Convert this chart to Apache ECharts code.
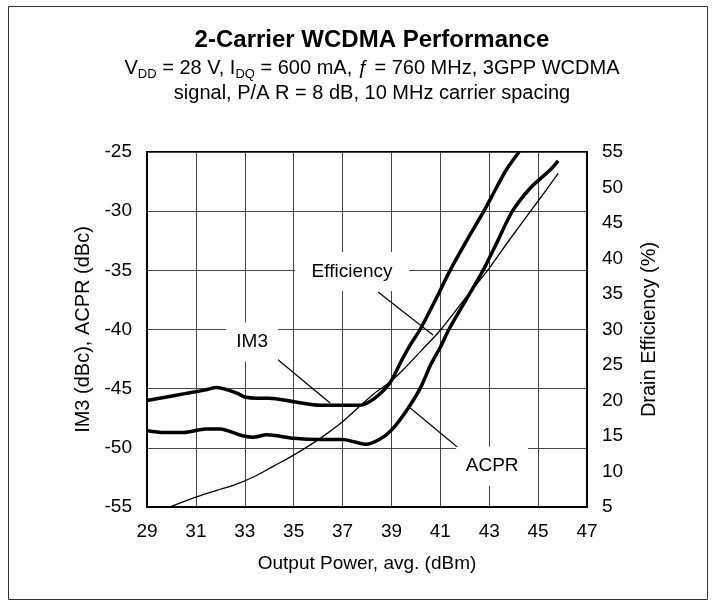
<!DOCTYPE html>
<html>
<head>
<meta charset="utf-8">
<script src="https://cdn.jsdelivr.net/npm/echarts@6/dist/echarts.min.js"></script>
<style>
  html, body { margin: 0; padding: 0; background: #fff; }
  #chart { width: 716px; height: 607px; }
</style>
</head>
<body>
<div id="chart"></div>
<script>
// 数据 (读图估算)
const im3X = [29.0, 29.8, 30.6, 31.4, 31.85, 32.3, 32.7, 33.0, 33.5, 34.0, 35.0, 36.1, 37.0, 37.7, 38.1, 38.5, 38.94, 39.42, 39.8, 40.17, 40.8, 41.4, 42.1, 42.78, 43.3, 43.7, 44.22];
const im3Y = [-46.0, -45.7, -45.4, -45.1, -44.9, -45.1, -45.4, -45.7, -45.8, -45.8, -46.1, -46.4, -46.4, -46.4, -46.1, -45.5, -44.5, -42.6, -41.2, -40.0, -37.5, -35.0, -32.4, -30.0, -28.0, -26.5, -25.0];

const acprX = [29.0, 29.7, 30.5, 31.4, 32.0, 32.5, 32.95, 33.35, 33.9, 35.0, 36.1, 37.0, 37.5, 37.95, 38.5, 39.0, 39.6, 40.17, 40.6, 41.0, 41.35, 42.05, 42.75, 43.35, 43.95, 44.7, 45.5, 45.82];
const acprY = [-48.55, -48.7, -48.7, -48.4, -48.4, -48.7, -49.0, -49.1, -48.9, -49.2, -49.3, -49.3, -49.5, -49.7, -49.3, -48.5, -46.9, -45.0, -43.0, -41.5, -40.0, -37.5, -35.0, -32.5, -30.0, -28.0, -26.5, -25.75];

const effX = [30.0, 31.0, 32.0, 32.5, 33.4, 34.2, 35.0, 36.1, 37.0, 37.7, 38.3, 38.94, 39.5, 40.24, 41.0, 42.0, 42.95, 43.8, 44.7, 45.3, 45.82];
const effY = [5.1, 6.4, 7.5, 8.0, 9.3, 10.8, 12.3, 14.7, 17.0, 19.2, 21.0, 22.6, 24.4, 27.1, 29.9, 34.3, 38.4, 42.5, 46.7, 49.5, 52.0];

// 坐标轴
const xMin = 29, xMax = 47, xStep = 2;
const leftMin = -55, leftMax = -25, leftStep = 5;
const rightMin = 5, rightMax = 55, rightStep = 5;

// 标注 (左轴坐标)
const labelNames = ['Efficiency', 'IM3', 'ACPR'];
const labelPos = [[37.39, -35.1], [33.3, -41.05], [43.12, -51.55]];
const labelBox = [[114, 39], [52, 39], [72, 39]];
const pointerFrom = [[38.45, -36.83], [34.32, -42.49], [39.72, -46.55]];
const pointerTo = [[40.7, -40.46], [36.49, -46.21], [41.73, -50.0]];

const zip = (xs, ys) => xs.map((x, i) => [x, ys[i]]);

const font = '"Liberation Sans", Arial, Helvetica, sans-serif';
const chart = echarts.init(document.getElementById('chart'));

const axisLine = { show: true, lineStyle: { color: '#000', width: 2 } };
const axisLabel = { color: '#000', fontSize: 19, fontFamily: font, margin: 15 };
const axisName = { color: '#000', fontSize: 20, fontFamily: font };

chart.setOption({
    animation: false,
    backgroundColor: '#fff',
    title: [{
        text: '2-Carrier WCDMA Performance',
        left: 367,
        top: 23,
        textAlign: 'center',
        textStyle: { fontSize: 24, fontWeight: 'bold', color: '#000', fontFamily: font }
    }, {
        text: 'V{s|DD} = 28 V, I{s|DQ} = 600 mA, ƒ = 760 MHz, 3GPP WCDMA\nsignal, P/A R = 8 dB, 10 MHz carrier spacing',
        left: 367,
        top: 51,
        textAlign: 'center',
        textStyle: {
            fontSize: 20, fontWeight: 'normal', color: '#000', fontFamily: font, lineHeight: 25,
            rich: {
                s: { fontSize: 13, fontWeight: 'normal', fontFamily: font, color: '#000', verticalAlign: 'bottom', lineHeight: 18 }
            }
        }
    }],
    graphic: [{
        type: 'rect',
        shape: { x: 8.5, y: 6.5, width: 699, height: 593 },
        style: { fill: null, stroke: '#333', lineWidth: 1 },
        silent: true
    }],
    grid: { left: 147, right: 129, top: 152, bottom: 100, show: true, borderColor: '#000', borderWidth: 2 },
    xAxis: {
        type: 'value', min: xMin, max: xMax, interval: xStep,
        name: 'Output Power, avg. (dBm)', nameLocation: 'middle', nameGap: 47,
        nameTextStyle: { color: '#000', fontSize: 19, fontFamily: font },
        axisLine: axisLine, axisTick: { show: false },
        axisLabel: axisLabel,
        splitLine: { show: true, lineStyle: { color: '#444', width: 1 } }
    },
    yAxis: [{
        type: 'value', min: leftMin, max: leftMax, interval: leftStep,
        name: 'IM3 (dBc), ACPR (dBc)', nameLocation: 'middle', nameGap: 52,
        nameTextStyle: axisName,
        axisLine: axisLine, axisTick: { show: false },
        axisLabel: axisLabel,
        splitLine: { show: true, lineStyle: { color: '#444', width: 1 } }
    }, {
        type: 'value', min: rightMin, max: rightMax, interval: rightStep,
        name: 'Drain Efficiency (%)', nameLocation: 'middle', nameGap: 52,
        nameTextStyle: axisName,
        axisLine: axisLine, axisTick: { show: false },
        axisLabel: axisLabel,
        splitLine: { show: false }
    }],
    series: [{
        name: 'IM3', type: 'line', yAxisIndex: 0,
        data: zip(im3X, im3Y), smooth: 0.3, showSymbol: false,
        lineStyle: { color: '#000', width: 3.5 },
        markPoint: {
            silent: true,
            symbol: 'rect',
            data: labelNames.map((n, i) => ({
                coord: labelPos[i],
                symbolSize: labelBox[i],
                itemStyle: { color: '#fff' },
                label: { show: true, formatter: n, color: '#000', fontSize: 19, fontFamily: font, position: 'inside' }
            }))
        },
        markLine: {
            silent: true,
            symbol: 'none',
            label: { show: false },
            lineStyle: { color: '#000', width: 1.2, type: 'solid' },
            data: pointerFrom.map((p, i) => [{ coord: p }, { coord: pointerTo[i] }])
        }
    }, {
        name: 'ACPR', type: 'line', yAxisIndex: 0,
        data: zip(acprX, acprY), smooth: 0.3, showSymbol: false,
        lineStyle: { color: '#000', width: 3.5 }
    }, {
        name: 'Efficiency', type: 'line', yAxisIndex: 1,
        data: zip(effX, effY), smooth: 0.3, showSymbol: false,
        lineStyle: { color: '#000', width: 1.3 }
    }]
});
</script>
</body>
</html>
